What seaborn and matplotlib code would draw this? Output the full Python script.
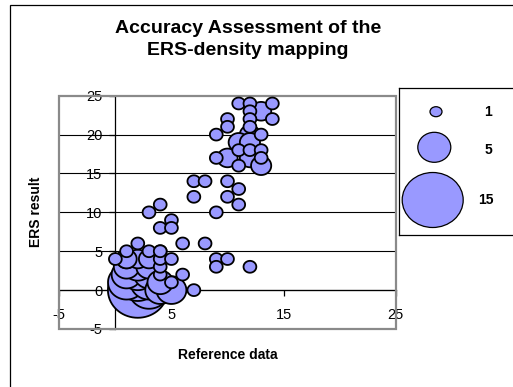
import matplotlib
matplotlib.use("Agg")
import matplotlib.pyplot as plt
from matplotlib.patches import Rectangle, Ellipse
from matplotlib.path import Path
import numpy as np
import pandas as pd
import seaborn as sns

# Reference data (x), ERS result (y) and number of coinciding samples (bubble size)
ref_x = [2, 3, 1, 2, 3, 1, 2, 3, 4, 1, 2, 3, 4, 1, 2, 3, 4, 4, 4, 4,
         0, 1, 1, 2, 3, 4, 5, 5, 5, 6, 7, 6, 8,
         3, 4, 4, 5, 5, 9, 9, 10, 12,
         7, 8, 7, 10, 11, 10, 11, 9,
         11, 12, 14, 13, 12, 14, 12, 10, 10, 12, 9, 12, 13, 11, 12,
         11, 12, 13, 9, 10, 12, 13, 11, 13]
ers_y = [0, 0, 1, 1, 1, 2, 2, 2, 0, 3, 3, 3, 1, 4, 4, 4, 2, 3, 5, 4,
         4, 4, 5, 6, 5, 5, 0, 1, 4, 2, 0, 6, 6,
         10, 11, 8, 9, 8, 4, 3, 4, 3,
         14, 14, 12, 14, 13, 12, 11, 10,
         24, 24, 24, 23, 23, 22, 22, 22, 21, 21, 20, 20, 20, 19, 19,
         18, 18, 18, 17, 17, 17, 17, 16, 16]
counts = [15, 7, 6, 7, 6, 4, 5, 4, 4, 3, 4, 3, 3, 2, 2, 2, 1, 1, 1, 1,
          1, 2, 1, 1, 1, 1, 4, 1, 1, 1, 1, 1, 1,
          1, 1, 1, 1, 1, 1, 1, 1, 1,
          1, 1, 1, 1, 1, 1, 1, 1,
          1, 1, 1, 2, 1, 1, 1, 1, 1, 1, 1, 2, 1, 2, 2,
          1, 1, 1, 1, 2, 2, 1, 1, 2]

legend_counts = [1, 5, 15]
y_ticks = [-5, 0, 5, 10, 15, 20, 25]
x_ticks = [-5, 5, 15, 25]

W, H = 513, 387
sns.set_theme(style="white")
plt.rcParams["font.family"] = ["Liberation Sans", "DejaVu Sans"]
plt.rcParams["text.color"] = "black"
plt.rcParams["xtick.color"] = "black"
plt.rcParams["ytick.color"] = "black"

fig = plt.figure(figsize=(W / 100, H / 100), dpi=100)
fig.patch.set_facecolor("white")


def fx(px):
    return px / W


def fy(py):
    return 1 - py / H


# outer chart frame
fig.add_artist(Rectangle((fx(10), fy(420)), 1.2, fy(5) - fy(420),
                         transform=fig.transFigure, fill=False,
                         ec="black", lw=0.9))

ax = fig.add_axes([fx(59.3), fy(329), (395.7 - 59.3) / W, (329 - 95.7) / H])
ax.set_facecolor("white")

df = pd.DataFrame({"ref": ref_x, "ers": ers_y, "n": counts})
df = df.sort_values("n", ascending=False, kind="stable")

# slightly wide bubble outline
t = np.linspace(0, 2 * np.pi, 73)
bubble = Path(np.column_stack([1.08 * np.cos(t), np.sin(t)]), closed=True)

sizes = (85, 1850)
sns.scatterplot(data=df, x="ref", y="ers", size="n", sizes=sizes,
                size_norm=(1, 15), color="#9999FF", edgecolor="black",
                linewidth=1.3, alpha=1, legend=False, ax=ax, zorder=5,
                clip_on=False, marker=bubble)

ax.set_xlim(-5, 25)
ax.set_ylim(-5, 25)
ax.set_xticks(x_ticks)
ax.set_yticks(y_ticks)
ax.set_xticklabels([str(v) for v in x_ticks])
ax.set_yticklabels([str(v) for v in y_ticks])

for v in y_ticks[1:-1]:
    ax.axhline(v, color="black", lw=0.8, zorder=1)

for side in ["top", "right"]:
    ax.spines[side].set_visible(False)
for side in ["left", "bottom"]:
    ax.spines[side].set_position(("data", 0))
    ax.spines[side].set_color("black")
    ax.spines[side].set_linewidth(0.9)
    ax.spines[side].set_zorder(2)

ax.add_patch(Rectangle((0, 0), 1, 1, transform=ax.transAxes, fill=False,
                       ec="#8a8a8a", lw=1.6, zorder=3, clip_on=False))

ax.tick_params(axis="x", direction="out", length=4, width=0.9,
               color="black", pad=9, labelsize=10.5, labelcolor="black",
               bottom=True)
ax.tick_params(axis="y", direction="out", length=4, width=0.9,
               color="black", pad=5.5, labelsize=10.5, labelcolor="black",
               left=True)
ax.set_xlabel("")
ax.set_ylabel("")

fig.text(fx(248), fy(39.5), "Accuracy Assessment of the\nERS-density mapping",
         ha="center", va="center", fontsize=14, fontweight="bold",
         linespacing=1.4, color="black")
fig.text(fx(228), fy(355), "Reference data", ha="center", va="center",
         fontsize=10, fontweight="bold", color="black")
fig.text(fx(36), fy(212), "ERS result", ha="center", va="center",
         fontsize=10, fontweight="bold", rotation=90, color="black")

# size key
lax = fig.add_axes([fx(399.3), fy(235), (520 - 399.3) / W, (235 - 88.3) / H])
lax.set_xlim(399.3, 520)
lax.set_ylim(235, 88.3)
lax.set_xticks([])
lax.set_yticks([])
lax.set_facecolor("white")
for s in lax.spines.values():
    s.set_color("black")
    s.set_linewidth(0.9)

key_pos = [(436.0, 111.7, 12, 10, 488, 112),
           (434.3, 147.3, 33, 30, 488, 150),
           (432.7, 200.0, 61, 55, 486, 200)]
for n, (cx, cy, w, h, tx, ty) in zip(legend_counts, key_pos):
    lax.add_patch(Ellipse((cx, cy), w, h, fc="#9999FF", ec="black", lw=0.9))
    lax.text(tx, ty, str(n), ha="center", va="center", fontsize=10,
             fontweight="bold", color="black")

fig.savefig("out.png", dpi=100)
